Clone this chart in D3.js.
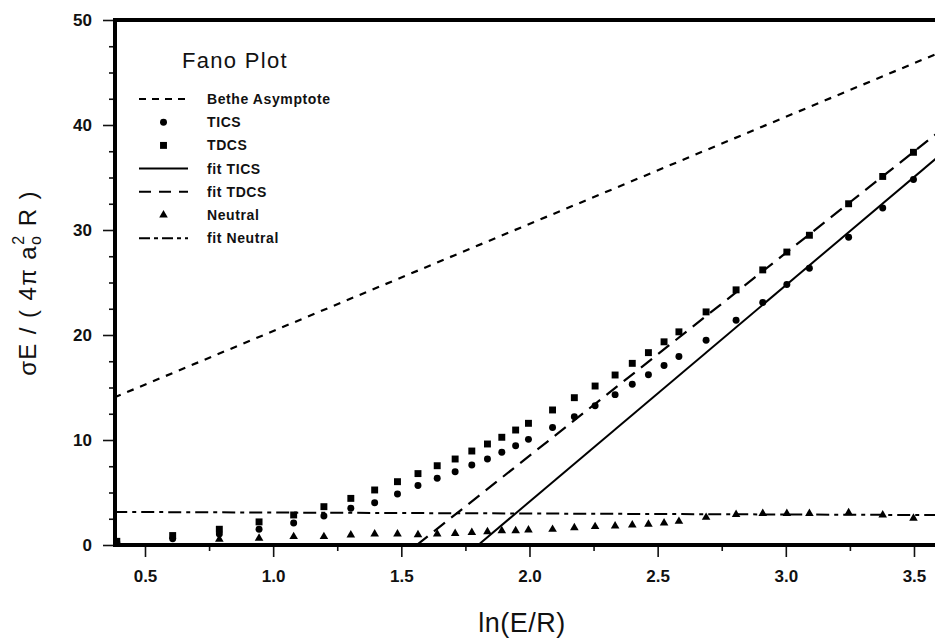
<!DOCTYPE html>
<html>
<head>
<meta charset="utf-8">
<script src="https://cdn.jsdelivr.net/npm/d3@7"></script>
<style>
  html, body { margin: 0; padding: 0; background: #fff; }
  svg { display: block; }
  text { font-family: "Liberation Sans", Arial, Helvetica, sans-serif; fill: #111; }
</style>
</head>
<body>
<svg id="chart" width="935" height="638"></svg>
<script>
// ln(E/R) positions of the measured points
const lnE = [0.39, 0.608, 0.79, 0.945, 1.08, 1.198, 1.303, 1.396, 1.485, 1.565,
             1.64, 1.71, 1.775, 1.836, 1.892, 1.946, 1.996, 2.09, 2.175, 2.256,
             2.334, 2.401, 2.464, 2.525, 2.583, 2.689, 2.806, 2.91, 3.004, 3.092,
             3.245, 3.378, 3.498];

// sigma*E / (4 pi a0^2 R) for each series
const tics = [0.25, 0.6, 1.05, 1.5, 2.1, 2.76, 3.5, 4.03, 4.86, 5.66,
              6.35, 6.98, 7.62, 8.19, 8.83, 9.46, 10.06, 11.2, 12.22, 13.27,
              14.32, 15.3, 16.22, 17.1, 17.95, 19.5, 21.4, 23.1, 24.8, 26.35,
              29.3, 32.1, 34.8];
const tdcs = [0.35, 0.9, 1.5, 2.2, 2.86, 3.65, 4.44, 5.24, 6.03, 6.8,
              7.55, 8.19, 8.95, 9.62, 10.26, 10.95, 11.59, 12.86, 14.03, 15.14,
              16.19, 17.3, 18.32, 19.35, 20.3, 22.2, 24.3, 26.2, 27.9, 29.5,
              32.5, 35.1, 37.4];
const neutral = [null, null, 0.55, 0.64, 0.8, 0.8, 0.95, 1.05, 1.05, 0.98,
                 1.05, 1.1, 1.2, 1.27, 1.36, 1.36, 1.43, 1.49, 1.65, 1.75,
                 1.81, 1.9, 1.97, 2.1, 2.25, 2.63, 2.9, 3.0, 3.0, 3.0,
                 3.08, 2.86, 2.54];

// straight lines, given by their end points
const betheX = [0.38, 3.60], betheY = [14.05, 46.9];
const fitTicsX = [1.80, 3.60], fitTicsY = [0, 37.1];
const fitTdcsX = [1.56, 3.60], fitTdcsY = [0, 39.4];
const fitNeutralX = [0.38, 3.60], fitNeutralY = [3.15, 2.85];

// axis ticks
const xMajor = [0.5, 1.0, 1.5, 2.0, 2.5, 3.0, 3.5];
const xMinor = [0.75, 1.25, 1.75, 2.25, 2.75, 3.25];
const yMajor = [0, 10, 20, 30, 40, 50];
const yMinor = [2.5, 5, 7.5, 12.5, 15, 17.5, 22.5, 25, 27.5, 32.5, 35, 37.5, 42.5, 45, 47.5];

const legendLabels = ["Bethe Asymptote", "TICS", "TDCS", "fit TICS", "fit TDCS", "Neutral", "fit Neutral"];

const svg = d3.select("#chart");
const W = 935, H = 638;
const padL = 115, padT = 20, baseY = 545;

const x = d3.scaleLinear().domain([0.383, 3.582]).range([padL, W]);
const y = d3.scaleLinear().domain([0, 50]).range([baseY, padT]);

// clip region for lines and points
svg.append("defs").append("clipPath").attr("id", "plot")
  .append("rect").attr("x", padL).attr("y", padT).attr("width", W - padL + 10).attr("height", baseY - padT);

// axes
function styleAxis(g) {
  g.select(".domain").remove();
  g.selectAll("line").attr("stroke", "#111").attr("stroke-width", 1.6);
}
svg.append("g").attr("transform", `translate(0,${baseY})`)
  .call(d3.axisBottom(x).tickValues(xMajor).tickSize(12).tickPadding(13).tickFormat(d3.format(".1f")))
  .call(styleAxis)
  .selectAll("text").attr("font-size", 17).attr("font-weight", "bold").attr("font-family", "Liberation Sans, Arial, sans-serif");
svg.append("g").attr("transform", `translate(0,${baseY})`)
  .call(d3.axisBottom(x).tickValues(xMinor).tickSize(6).tickFormat(""))
  .call(styleAxis);
svg.append("g").attr("transform", `translate(${padL},0)`)
  .call(d3.axisLeft(y).tickValues(yMajor).tickSize(12).tickPadding(11).tickFormat(d3.format("d")))
  .call(styleAxis)
  .selectAll("text").attr("font-size", 17).attr("font-weight", "bold").attr("font-family", "Liberation Sans, Arial, sans-serif");
svg.append("g").attr("transform", `translate(${padL},0)`)
  .call(d3.axisLeft(y).tickValues(yMinor).tickSize(6).tickFormat(""))
  .call(styleAxis);

// frame (right side runs past the edge)
svg.append("path")
  .attr("d", `M${W + 5},${padT} H${padL} V${baseY} H${W + 5}`)
  .attr("fill", "none").attr("stroke", "#000").attr("stroke-width", 4);

// lines
const plot = svg.append("g").attr("clip-path", "url(#plot)");
const line = d3.line().x(d => x(d[0])).y(d => y(d[1]));
const lineSets = [
  { xs: betheX, ys: betheY, dash: "7,7", w: 2.2 },
  { xs: fitTicsX, ys: fitTicsY, dash: null, w: 2.0 },
  { xs: fitTdcsX, ys: fitTdcsY, dash: "14,8", w: 2.2 },
  { xs: fitNeutralX, ys: fitNeutralY, dash: "13,5,4,5", w: 2.0 }
];
lineSets.forEach(s => {
  plot.append("path")
    .datum(d3.zip(s.xs, s.ys))
    .attr("d", line)
    .attr("fill", "none").attr("stroke", "#000")
    .attr("stroke-width", s.w)
    .attr("stroke-dasharray", s.dash);
});

// markers
const sym = {
  circle: d3.symbol().type(d3.symbolCircle).size(38),
  square: d3.symbol().type(d3.symbolSquare).size(48),
  triangle: d3.symbol().type(d3.symbolTriangle).size(32)
};
function points(values, shape) {
  plot.append("g").selectAll("path")
    .data(d3.zip(lnE, values).filter(d => d[1] != null))
    .join("path")
    .attr("transform", d => `translate(${x(d[0])},${y(d[1])})`)
    .attr("d", sym[shape]).attr("fill", "#000");
}
points(neutral, "triangle");
points(tdcs, "square");
points(tics, "circle");

// legend
const lg = svg.append("g");
lg.append("text").attr("x", 182).attr("y", 68)
  .attr("font-size", 22).attr("letter-spacing", 1.3).text("Fano Plot");
const ly0 = 99, lstep = 23.2, lx0 = 139, lx1 = 188, ltx = 207;
const legendMarks = [
  { kind: "line", dash: "7,6" },
  { kind: "sym", shape: "circle" },
  { kind: "sym", shape: "square" },
  { kind: "line", dash: null },
  { kind: "line", dash: "12,8" },
  { kind: "sym", shape: "triangle" },
  { kind: "line", dash: "11,4,4,4" }
];
legendLabels.forEach((label, i) => {
  const cy = ly0 + i * lstep;
  const m = legendMarks[i];
  if (m.kind === "line") {
    lg.append("line").attr("x1", lx0).attr("x2", lx1).attr("y1", cy).attr("y2", cy)
      .attr("stroke", "#000").attr("stroke-width", 2).attr("stroke-dasharray", m.dash);
  } else {
    lg.append("path").attr("transform", `translate(${(lx0 + lx1) / 2},${cy})`)
      .attr("d", sym[m.shape]).attr("fill", "#000");
  }
  lg.append("text").attr("x", ltx).attr("y", cy + 5)
    .attr("font-size", 14).attr("font-weight", "bold").attr("letter-spacing", 0.6)
    .text(label);
});

// axis titles
svg.append("text").attr("x", 522).attr("y", 632).attr("text-anchor", "middle")
  .attr("font-size", 27).attr("letter-spacing", 0.5).text("ln(E/R)");

const yt = svg.append("text")
  .attr("transform", "translate(36,283) rotate(-90)")
  .attr("text-anchor", "middle").attr("font-size", 24).attr("letter-spacing", 1.4);
yt.append("tspan").text("σE / ( 4π a");
yt.append("tspan").attr("font-size", 16).attr("dy", 5).text("o");
yt.append("tspan").attr("font-size", 16).attr("dx", -10).attr("dy", -17).text("2");
yt.append("tspan").attr("dy", 12).text(" R )");
</script>
</body>
</html>
